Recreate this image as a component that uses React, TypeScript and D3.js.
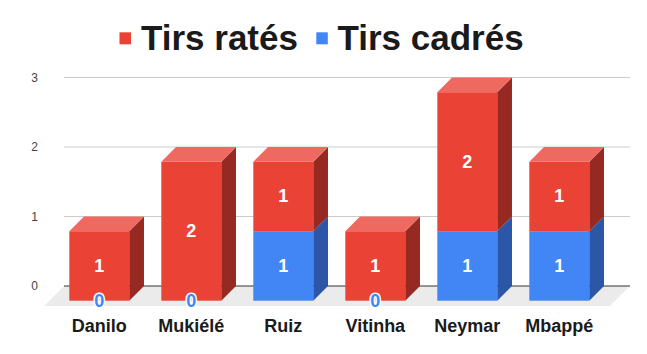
import React from "react";
import * as d3 from "d3";

const categories = ["Danilo", "Mukiélé", "Ruiz", "Vitinha", "Neymar", "Mbappé"];
const tirsCadres = [0, 0, 1, 0, 1, 1];
const tirsRates = [1, 2, 1, 1, 2, 1];
const yTicks = [0, 1, 2, 3];
const seriesNames = ["Tirs ratés", "Tirs cadrés"];

const W = 647;
const H = 354;
const DEPTH = 14.7;
const FONT = "'Liberation Sans', Arial, Helvetica, sans-serif";

const colors = {
  red: { front: "#ea4335", top: "#ee6a60", side: "#962a23" },
  blue: { front: "#4285f4", top: "#6fa2f6", side: "#2c57a6" },
};

export default function App() {
  const plotLeft = 64;
  const plotRight = 630;
  const yBack = d3.scaleLinear().domain([0, 3]).range([286, 77.5]);
  const yFront = (v: number) => yBack(v) + DEPTH;
  const x = d3
    .scaleBand<string>()
    .domain(categories)
    .range([68, 620])
    .paddingInner(0.348)
    .paddingOuter(0.174);
  const bw = x.bandwidth();

  const floorY0 = yBack(0);
  const floorD = 20;

  const bars: React.ReactNode[] = [];
  const labels: React.ReactNode[] = [];

  categories.forEach((c, i) => {
    const xl = (x(c) as number) - DEPTH;
    const xr = xl + bw;
    const cx = xl + bw / 2;
    const segs = [
      { v: tirsCadres[i], col: colors.blue },
      { v: tirsRates[i], col: colors.red },
    ];
    let base = 0;
    const total = tirsCadres[i] + tirsRates[i];
    segs.forEach((s, j) => {
      const y0 = base;
      const y1 = base + s.v;
      if (s.v === 0) {
        labels.push(
          <text
            key={`l${i}-${j}`}
            x={cx}
            y={yFront(y0)}
            textAnchor="middle"
            dominantBaseline="central"
            fontFamily={FONT}
            fontWeight="bold"
            fontSize={18}
            fill={s.col.front}
            stroke="#ffffff"
            strokeWidth={3}
            style={{ paintOrder: "stroke" }}
          >
            {s.v}
          </text>
        );
        return;
      }
      const ft = yFront(y1);
      const fb = yFront(y0);
      bars.push(
        <g key={`b${i}-${j}`}>
          <rect x={xl} y={ft} width={bw} height={fb - ft} fill={s.col.front} />
          <polygon
            points={`${xr},${ft} ${xr + DEPTH},${ft - DEPTH} ${xr + DEPTH},${fb - DEPTH} ${xr},${fb}`}
            fill={s.col.side}
          />
          {y1 === total && (
            <polygon
              points={`${xl},${ft} ${xl + DEPTH},${ft - DEPTH} ${xr + DEPTH},${ft - DEPTH} ${xr},${ft}`}
              fill={s.col.top}
            />
          )}
        </g>
      );
      labels.push(
        <text
          key={`l${i}-${j}`}
          x={cx}
          y={(ft + fb) / 2}
          textAnchor="middle"
          dominantBaseline="central"
          fontFamily={FONT}
          fontWeight="bold"
          fontSize={18}
          fill="#ffffff"
        >
          {s.v}
        </text>
      );
      base = y1;
    });
  });

  return (
    <svg
      width={W}
      height={H}
      style={{ position: "absolute", left: 0, top: 0, background: "#fff" }}
    >
      <rect x={0} y={0} width={W} height={H} fill="#fff" />
      {/* legend */}
      <rect x={119.5} y={32.3} width={11.5} height={12} fill={colors.red.front} />
      <text x={141} y={50} fontFamily={FONT} fontWeight="bold" fontSize={35} fill="#1a1a1a">
        {seriesNames[0]}
      </text>
      <rect x={316.3} y={32.3} width={11.5} height={12} fill={colors.blue.front} />
      <text x={337.5} y={50} fontFamily={FONT} fontWeight="bold" fontSize={35} fill="#1a1a1a">
        {seriesNames[1]}
      </text>

      {/* floor */}
      <polygon
        points={`${plotLeft},${floorY0} ${plotRight},${floorY0} ${plotRight - floorD},${floorY0 + floorD} ${plotLeft - floorD},${floorY0 + floorD}`}
        fill="#ebebeb"
      />
      {/* gridlines */}
      {yTicks.map((t) => (
        <line
          key={`g${t}`}
          x1={plotLeft}
          x2={plotRight}
          y1={yBack(t)}
          y2={yBack(t)}
          stroke={t === 0 ? "#333333" : "#cccccc"}
          strokeWidth={1}
        />
      ))}
      {yTicks.map((t) => (
        <text
          key={`t${t}`}
          x={38}
          y={yBack(t)}
          textAnchor="end"
          dominantBaseline="central"
          fontFamily={FONT}
          fontSize={12}
          fill="#444444"
        >
          {t}
        </text>
      ))}
      {bars}
      {labels}
      {categories.map((c) => (
        <text
          key={`x${c}`}
          x={(x(c) as number) - DEPTH + bw / 2}
          y={331.5}
          textAnchor="middle"
          fontFamily={FONT}
          fontWeight="bold"
          fontSize={18}
          fill="#1a1a1a"
        >
          {c}
        </text>
      ))}
    </svg>
  );
}
